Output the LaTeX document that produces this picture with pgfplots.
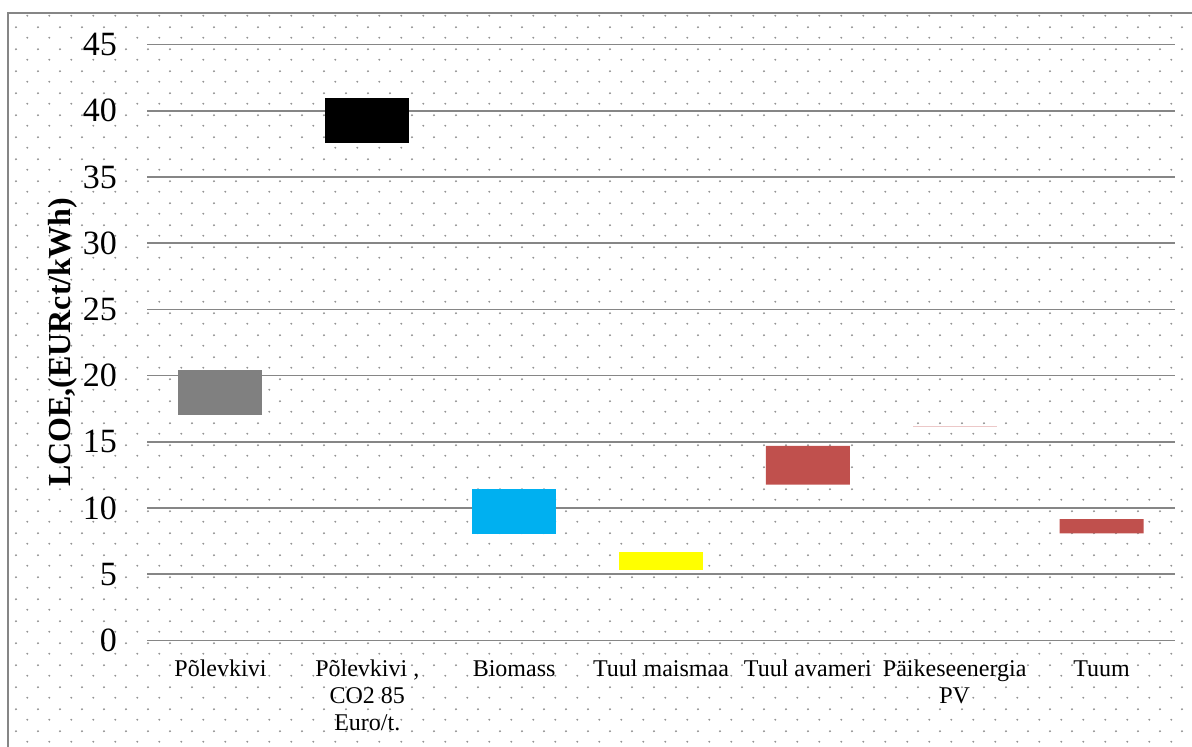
\documentclass[border=0pt]{standalone}
\usepackage{fontspec}
\setmainfont{Liberation Serif}
\usepackage{pgfplots}
\pgfplotsset{compat=1.18}
\usetikzlibrary{patterns.meta}
\definecolor{cgray}{RGB}{128,128,128}
\definecolor{ccyan}{RGB}{0,176,240}
\definecolor{cyel}{RGB}{255,255,0}
\definecolor{cred}{RGB}{192,80,77}
\definecolor{cpink}{RGB}{236,200,200}
\definecolor{gridc}{RGB}{134,134,134}
\tikzdeclarepattern{
  name=bgdots,
  type=colored,
  bottom left={(0pt,0pt)},
  top right={(10.85pt,11pt)},
  tile size={(10.85pt,11pt)},
  code={
    \fill[black!42] (2.7pt,2.75pt) circle (0.55pt);
    \fill[black!42] (8.1pt,8.25pt) circle (0.55pt);
  }
}
\begin{document}
\begin{tikzpicture}[x=1pt,y=1pt]
\useasboundingbox (0,0) rectangle (596,-373.5);
\fill[pattern=bgdots] (4,-6.5) rectangle (596,-373.5);
\draw[gridc, line width=0.8pt] (4,-373.5) -- (4,-6.5) -- (596,-6.5);
\begin{axis}[
  at={(73.5pt,-320.25pt)}, anchor=south west,
  scale only axis, width=514pt, height=298pt,
  ybar stacked, bar width=42pt,
  xmin=-0.5, xmax=6.5, ymin=0, ymax=45,
  xtick={0,1,2,3,4,5,6},
  xticklabels={\strut P\~olevkivi, {\strut P\~olevkivi ,\\CO2 85\\Euro/t.}, \strut Biomass, \strut Tuul maismaa, \strut Tuul avameri, {\strut P\"aikeseenergia\\PV}, \strut Tuum},
  ytick={0,5,...,45},
  ymajorgrids, grid style={draw=gridc, line width=0.85pt},
  axis line style={draw=none}, tick style={draw=none},
  /pgf/number format/assume math mode=true,
  yticklabel style={font=\fontsize{17}{17}\selectfont, xshift=-11.5pt},
  xticklabel style={font=\fontsize{12}{13.5}\selectfont, align=center, anchor=north, yshift=-5pt},
  ylabel={LCOE,(EURct/kWh)},
  every axis y label/.style={at={(axis description cs:-0.0817,0.5)}, rotate=90, anchor=center, font=\fontsize{16}{16}\selectfont\bfseries},
]
% invisible base (lower end of each range)
\addplot[draw=none, fill=none] coordinates {(0,17.05) (1,37.58) (2,8.06) (3,5.35) (4,11.76) (5,16.10) (6,8.09)};
% range heights (upper - lower), one colour per series
\addplot[draw=none, fill=cgray] coordinates {(0,3.37) (1,0) (2,0) (3,0) (4,0) (5,0) (6,0)};
\addplot[draw=none, fill=black] coordinates {(0,0) (1,3.37) (2,0) (3,0) (4,0) (5,0) (6,0)};
\addplot[draw=none, fill=ccyan] coordinates {(0,0) (1,0) (2,3.38) (3,0) (4,0) (5,0) (6,0)};
\addplot[draw=none, fill=cyel] coordinates {(0,0) (1,0) (2,0) (3,1.33) (4,0) (5,0) (6,0)};
\addplot[draw=none, fill=cred] coordinates {(0,0) (1,0) (2,0) (3,0) (4,2.93) (5,0) (6,1.08)};
\addplot[draw=none, fill=cpink] coordinates {(0,0) (1,0) (2,0) (3,0) (4,0) (5,0.08) (6,0)};
\end{axis}
\end{tikzpicture}
\end{document}
